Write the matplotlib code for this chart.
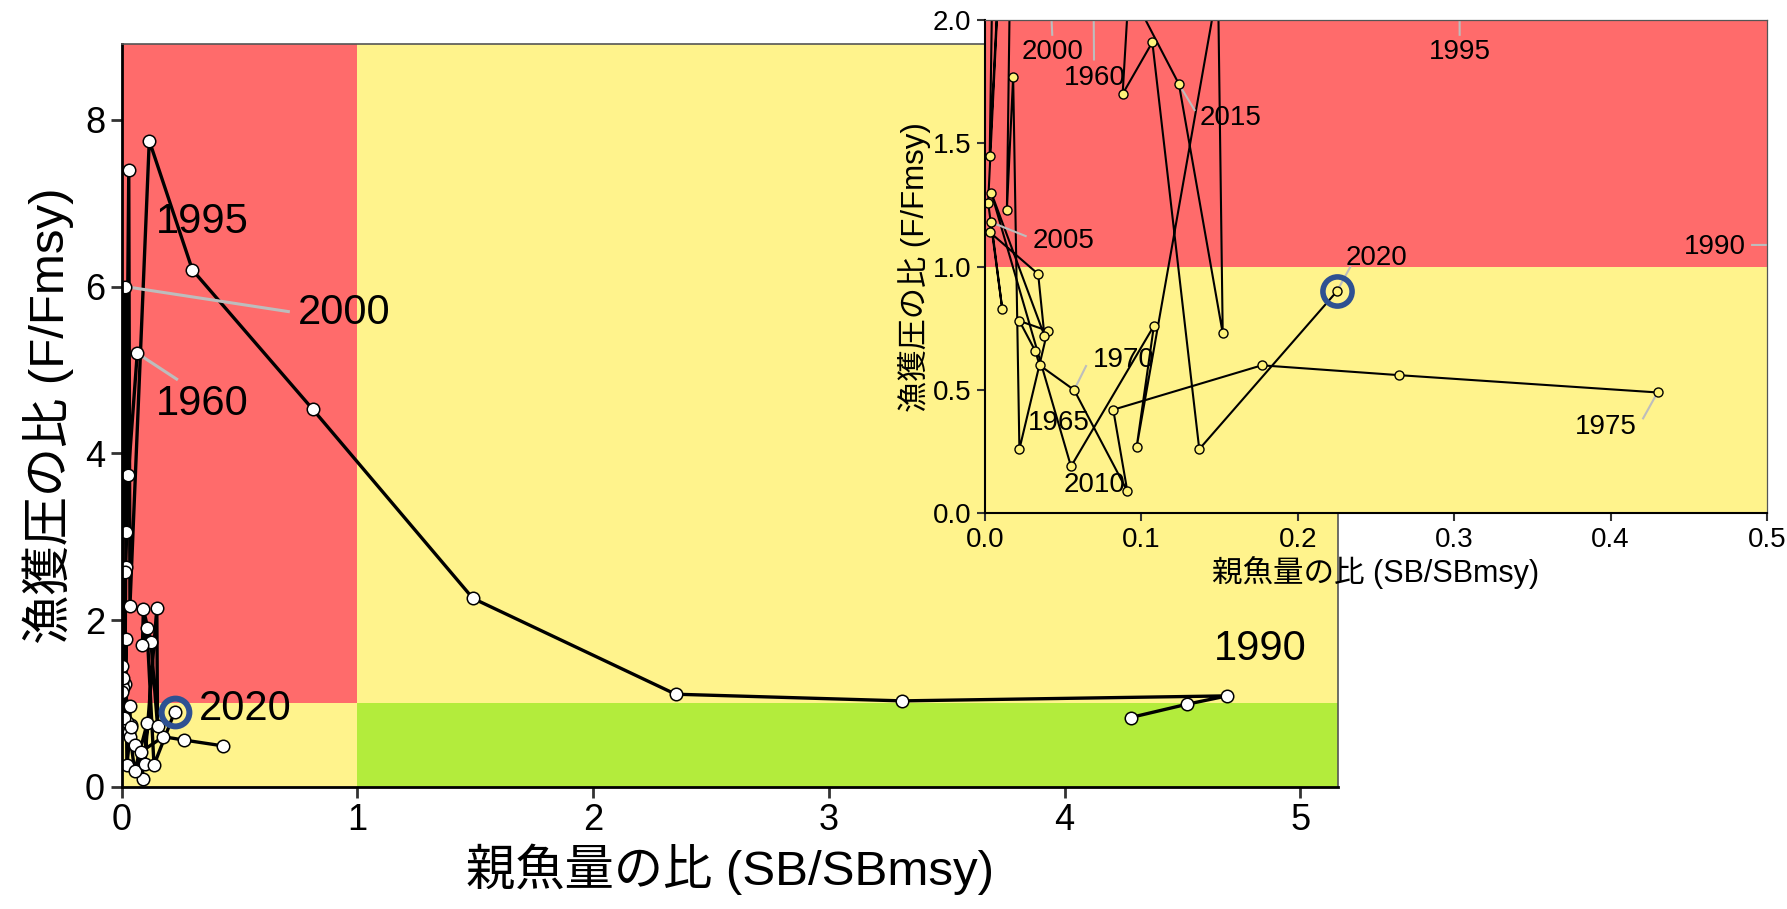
import matplotlib.pyplot as plt
from matplotlib.patches import Rectangle
import numpy as np

plt.rcParams['font.family'] = ['Liberation Sans', 'Noto Sans CJK JP']

# 年ごとの親魚量比と漁獲圧比 (1976-1987 は欠測)
years = [1960, 1961, 1962, 1963, 1964, 1965, 1966, 1967, 1968, 1969,
         1970, 1971, 1972, 1973, 1974, 1975,
         1988, 1989, 1990, 1991, 1992, 1993, 1994, 1995, 1996, 1997,
         1998, 1999, 2000, 2001, 2002, 2003, 2004, 2005, 2006, 2007,
         2008, 2009, 2010, 2011, 2012, 2013, 2014, 2015, 2016, 2017,
         2018, 2019, 2020]
sb_ratio = [0.066, 0.028, 0.017, 0.014, 0.018, 0.022, 0.040, 0.022, 0.032, 0.035,
            0.057, 0.091, 0.082, 0.177, 0.265, 0.430,
            4.28, 4.52, 4.69, 3.31, 2.35, 1.49, 0.81, 0.30, 0.117, 0.035,
            0.030, 0.017, 0.014, 0.003, 0.012, 0.002, 0.011, 0.004, 0.003, 0.034,
            0.038, 0.004, 0.055, 0.108, 0.097, 0.149, 0.152, 0.124, 0.092, 0.088,
            0.107, 0.137, 0.225]
f_ratio = [5.20, 3.74, 2.64, 1.23, 1.77, 0.26, 0.74, 0.78, 0.66, 0.60,
           0.50, 0.09, 0.42, 0.60, 0.56, 0.49,
           0.83, 0.99, 1.09, 1.03, 1.11, 2.26, 4.53, 6.20, 7.75, 2.17,
           7.40, 3.05, 6.00, 1.45, 2.58, 1.26, 0.83, 1.18, 1.14, 0.97,
           0.72, 1.30, 0.19, 0.76, 0.27, 2.14, 0.73, 1.74, 2.13, 1.70,
           1.91, 0.26, 0.90]

last_year = 2020

# ラベル位置 (データ座標) と引き出し線の終点
main_labels = {1960: (0.34, 4.59), 1990: (4.83, 1.65), 1995: (0.34, 6.78),
               2000: (0.945, 5.68), 2020: (0.523, 0.93)}
main_leaders = {1960: (0.233, 4.89), 2000: (0.707, 5.70)}

inset_labels = {2000: (0.043, 1.871), 1960: (0.070, 1.766), 1995: (0.3035, 1.871),
                2015: (0.157, 1.601), 2005: (0.050, 1.105), 2020: (0.2506, 1.034),
                1990: (0.467, 1.081), 1970: (0.0885, 0.621), 1965: (0.047, 0.365),
                2010: (0.070, 0.115), 1975: (0.397, 0.351)}
inset_leaders = {2000: (0.043, 1.94), 1960: (0.0697, 1.84), 1995: (0.3035, 1.94),
                 2015: (0.134, 1.635), 2005: (0.026, 1.124), 2020: (0.2335, 0.998),
                 1990: (0.4905, 1.088), 1970: (0.0646, 0.597), 1975: (0.4208, 0.385)}

RED = '#ff6b6b'
YELLOW = '#fff38c'
GREEN = '#b3ec3c'
RING = '#2e5192'
LEADER = '#bdbdbd'

yr = np.array(years)
sb = np.array(sb_ratio)
fr = np.array(f_ratio)
breaks = np.where(np.diff(yr) > 1)[0] + 1
segments = np.split(np.arange(len(yr)), breaks)


def kobe_background(ax, xmax, ymax):
    ax.add_patch(Rectangle((0, 1), 1, ymax - 1, color=RED, lw=0, zorder=0))
    ax.add_patch(Rectangle((1, 1), xmax - 1, ymax - 1, color=YELLOW, lw=0, zorder=0))
    ax.add_patch(Rectangle((0, 0), 1, 1, color=YELLOW, lw=0, zorder=0))
    ax.add_patch(Rectangle((1, 0), xmax - 1, 1, color=GREEN, lw=0, zorder=0))


def style_axes(ax, lw_main, tick_len, tick_size):
    for side in ['top', 'right']:
        ax.spines[side].set_color('#555555')
        ax.spines[side].set_linewidth(lw_main * 0.6)
    for side in ['left', 'bottom']:
        ax.spines[side].set_color('black')
        ax.spines[side].set_linewidth(lw_main)
    ax.tick_params(direction='out', length=tick_len, width=lw_main, color='#333333',
                   labelsize=tick_size, pad=4)
    for s in ax.spines.values():
        s.set_zorder(5)


fig = plt.figure(figsize=(17.87, 9.09), dpi=100)

# 全体図
ax = fig.add_axes([0.0681, 0.1345, 0.6806, 0.8171])
XMAX, YMAX = 5.16, 8.91
kobe_background(ax, XMAX, YMAX)
for idx in segments:
    ax.plot(sb[idx], fr[idx], color='black', lw=2.4, zorder=2)
ax.plot(sb, fr, 'o', ms=9, mfc='white', mec='black', mew=1.1, zorder=3)
i_last = years.index(last_year)
ax.plot(sb[i_last], fr[i_last], 'o', ms=20, mfc='none', mec=RING, mew=4.3, zorder=4)
for y, (lx, ly) in main_labels.items():
    i = years.index(y)
    if y in main_leaders:
        ex, ey = main_leaders[y]
        ax.plot([sb[i], ex], [fr[i], ey], color=LEADER, lw=2.2, zorder=2.5)
    ax.text(lx, ly, str(y), fontsize=30, ha='center', va='center', zorder=6)
ax.set_xlim(0, XMAX)
ax.set_ylim(0, YMAX)
ax.set_xticks([0, 1, 2, 3, 4, 5])
ax.set_yticks([0, 2, 4, 6, 8])
style_axes(ax, 2.0, 8, 26)
ax.set_xlabel('親魚量の比 (SB/SBmsy)', fontsize=35.5, labelpad=4)
ax.set_ylabel('漁獲圧の比 (F/Fmsy)', fontsize=35.5, labelpad=8)

# 拡大図
ins = fig.add_axes([0.5512, 0.4353, 0.4376, 0.5427])
ins.patch.set_alpha(0)
IXMAX, IYMAX = 0.5, 2.0
kobe_background(ins, IXMAX, IYMAX)
for idx in segments:
    ins.plot(sb[idx], fr[idx], color='black', lw=1.5, zorder=2)
for y, (ex, ey) in inset_leaders.items():
    i = years.index(y)
    ins.plot([sb[i], ex], [fr[i], ey], color=LEADER, lw=1.5, zorder=2.5)
ins.plot(sb, fr, 'o', ms=6.5, mfc='#fff27a', mec='black', mew=1.0, zorder=3)
ins.plot(sb[i_last], fr[i_last], 'o', ms=21, mfc='none', mec=RING, mew=4.0, zorder=4)
for y, (lx, ly) in inset_labels.items():
    ins.text(lx, ly, str(y), fontsize=20, ha='center', va='center', zorder=6)
ins.set_xlim(0, IXMAX)
ins.set_ylim(0, IYMAX)
ins.set_xticks([0.0, 0.1, 0.2, 0.3, 0.4, 0.5])
ins.set_yticks([0.0, 0.5, 1.0, 1.5, 2.0])
ins.xaxis.set_major_formatter('{x:.1f}')
ins.yaxis.set_major_formatter('{x:.1f}')
style_axes(ins, 1.5, 6, 20)
ins.set_xlabel('親魚量の比 (SB/SBmsy)', fontsize=22, labelpad=2)
ins.set_ylabel('漁獲圧の比 (F/Fmsy)', fontsize=22.5, labelpad=1)

fig.savefig('out.png', dpi=100)
